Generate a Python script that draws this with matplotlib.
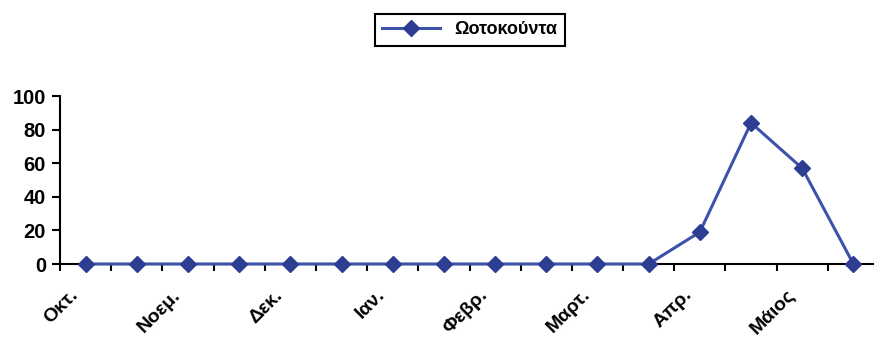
import numpy as np
import matplotlib.pyplot as plt
from matplotlib.transforms import ScaledTranslation

plt.rcParams['font.family'] = ['Liberation Sans', 'DejaVu Sans']
plt.rcParams['font.weight'] = 'bold'

# half-month steps, October to end of May
values = [0, 0, 0, 0, 0, 0, 0, 0, 0, 0, 0, 0, 19, 84, 57, 0]
month_labels = ["Οκτ.", "Νοεμ.", "Δεκ.", "Ιαν.", "Φεβρ.", "Μαρτ.", "Απρ.", "Μάιος"]
series_name = "Ωοτοκούντα"

line_col = "#3d52aa"
marker_col = "#2c3d92"

fig = plt.figure(figsize=(8.74, 3.42), dpi=100)
ax = fig.add_axes([60 / 874, 78 / 342, 819 / 874, 168 / 342])

x = np.arange(len(values))
ax.plot(x, values, color=line_col, lw=2.2, marker="D", ms=8,
        mfc=marker_col, mec=marker_col, clip_on=False, zorder=5,
        label=series_name)

ax.set_xlim(-0.5, len(values) - 0.5)
ax.set_ylim(0, 100)
ax.set_yticks(np.arange(0, 101, 20))
ax.tick_params(axis="y", direction="out", length=6, width=1.5, labelsize=14.5, pad=4)

# ticks sit between categories, labels on every other category
ax.set_xticks(np.arange(-0.5, len(values), 1.0))
ax.set_xticklabels([])
ax.tick_params(axis="x", direction="out", length=5, width=1.5)
ax.set_xticks(x[::2], minor=True)
ax.set_xticklabels(month_labels, minor=True, rotation=45, ha="right",
                   rotation_mode="anchor", fontsize=14)
ax.tick_params(axis="x", which="minor", length=0, pad=14)
shift = ScaledTranslation(-0.16, -0.03, fig.dpi_scale_trans)
for lab in ax.get_xticklabels(minor=True):
    lab.set_transform(lab.get_transform() + shift)

for side in ["top", "right"]:
    ax.spines[side].set_visible(False)
ax.spines["left"].set_linewidth(1.5)
ax.spines["bottom"].set_linewidth(1.5)

leg = fig.legend(loc="center", bbox_to_anchor=(470 / 874, 1 - 30 / 342),
                 fontsize=13, handlelength=3.2, fancybox=False,
                 edgecolor="black", framealpha=1, borderpad=0.4)
leg.get_frame().set_linewidth(1.5)

fig.savefig("out.png", dpi=100)
